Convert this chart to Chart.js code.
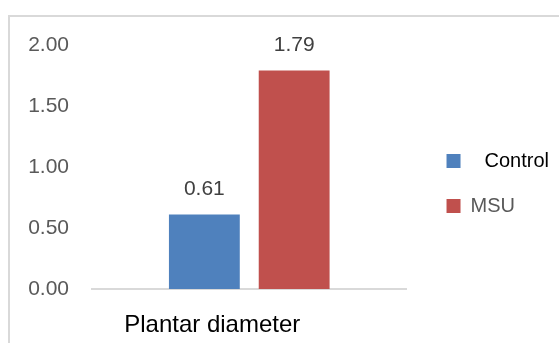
<!DOCTYPE html>
<html>
<head>
<meta charset="utf-8">
<script src="https://cdn.jsdelivr.net/npm/chart.js@4/dist/chart.umd.min.js"></script>
<style>
  html, body { margin: 0; padding: 0; background: #ffffff; }
  #wrap { position: relative; width: 559px; height: 343px; overflow: hidden; background: #ffffff; }
  #frame { position: absolute; left: 8px; top: 15px; width: 700px; height: 500px;
           border-top: 2px solid #d9d9d9; border-left: 2px solid #d9d9d9; }
  #c { position: absolute; left: 0; top: 0; }
</style>
</head>
<body>
<div id="wrap">
  <div id="frame"></div>
  <canvas id="c" width="559" height="343"></canvas>
</div>
<script>
// ---- data ----
const categories = ['Plantar diameter'];
const seriesNames = ['Control', 'MSU'];
const controlValues = [0.61];
const msuValues = [1.79];
const yTickValues = [0, 0.5, 1, 1.5, 2];

const FONT = '"Liberation Sans", Arial, sans-serif';

const valueLabels = {
  id: 'valueLabels',
  afterDatasetsDraw(chart) {
    const ctx = chart.ctx;
    ctx.save();
    ctx.font = '21px ' + FONT;
    ctx.fillStyle = '#404040';
    ctx.textAlign = 'center';
    ctx.textBaseline = 'middle';
    chart.data.datasets.forEach((ds, di) => {
      const meta = chart.getDatasetMeta(di);
      meta.data.forEach((bar, i) => {
        ctx.fillText(Number(ds.data[i]).toFixed(2), bar.x, bar.y - 25);
      });
    });
    ctx.restore();
  }
};

new Chart(document.getElementById('c'), {
  type: 'bar',
  data: {
    labels: categories,
    datasets: [
      { label: seriesNames[0], data: controlValues, backgroundColor: '#4F81BD', borderWidth: 0,
        categoryPercentage: 0.571, barPercentage: 0.789 },
      { label: seriesNames[1], data: msuValues, backgroundColor: '#C0504D', borderWidth: 0,
        categoryPercentage: 0.571, barPercentage: 0.789 }
    ]
  },
  options: {
    responsive: false,
    animation: false,
    devicePixelRatio: 1,
    layout: { padding: { top: 45, left: 27, right: 0, bottom: 3 } },
    scales: {
      y: {
        min: yTickValues[0],
        max: yTickValues[yTickValues.length - 1],
        afterBuildTicks: (s) => { s.ticks = yTickValues.map(v => ({ value: v })); },
        afterFit: (s) => { s.width = 65; },
        ticks: {
          callback: (v) => Number(v).toFixed(2),
          font: { family: FONT, size: 21 },
          color: '#595959',
          padding: 23
        },
        grid: { display: false, drawTicks: false },
        border: { display: false }
      },
      yR: {
        type: 'linear',
        position: 'right',
        display: true,
        grid: { display: false, drawTicks: false },
        border: { display: false },
        ticks: { display: false },
        afterFit: (s) => { s.width = 15; }
      },
      x: {
        afterFit: (s) => { s.height = 51; },
        grid: { display: false, drawTicks: false },
        border: { display: true, color: '#d9d9d9', width: 2 },
        ticks: {
          font: { family: FONT, size: 24 },
          color: '#000000',
          padding: 22,
          labelOffset: -37
        }
      }
    },
    plugins: {
      tooltip: { enabled: false },
      legend: {
        position: 'right',
        align: 'start',
        maxWidth: 200,
        title: { display: true, text: ' ', font: { size: 10, lineHeight: 1 }, padding: { top: 71, bottom: 0 } },
        labels: {
          boxWidth: 14,
          boxHeight: 14,
          padding: 25,
          font: { family: FONT, size: 20 },
          generateLabels: (chart) => chart.data.datasets.map((ds, i) => ({
            text: i === 0 ? '\u2002\u2009' + ds.label : ds.label,
            fillStyle: ds.backgroundColor,
            strokeStyle: ds.backgroundColor,
            lineWidth: 0,
            fontColor: i === 0 ? '#000000' : '#595959',
            hidden: false,
            datasetIndex: i
          }))
        }
      }
    }
  },
  plugins: [valueLabels]
});
</script>
</body>
</html>
